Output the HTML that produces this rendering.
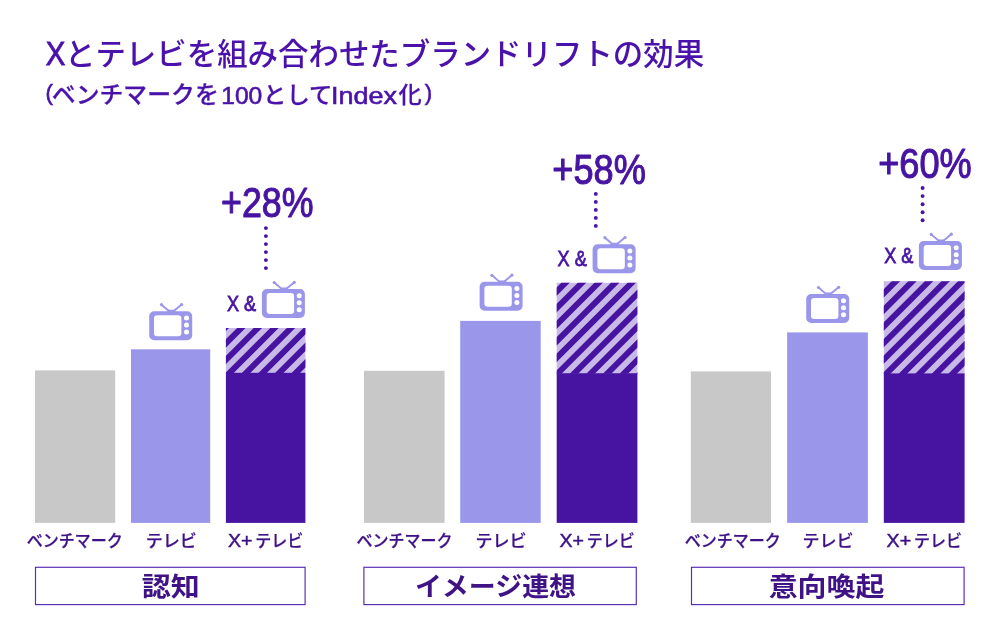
<!DOCTYPE html>
<html lang="ja"><head><meta charset="utf-8"><title>Xとテレビを組み合わせたブランドリフトの効果</title>
<style>
html,body{margin:0;padding:0;background:#fff}
body{width:1000px;height:640px;overflow:hidden}
svg{display:block}
text{font-family:"Liberation Sans","Noto Sans CJK JP",sans-serif;white-space:pre}
</style></head><body>
<svg width="1000" height="640" viewBox="0 0 1000 640">
<g id="shapes">
<rect x="35" y="370.4" width="80.20" height="152.50" fill="#c8c8c8"/>
<rect x="131" y="349.3" width="79.20" height="173.60" fill="#9a96ea"/>
<clipPath id="c0"><rect x="225.9" y="328.0" width="79.50" height="45.30"/></clipPath>
<rect x="225.9" y="328.0" width="79.50" height="45.30" fill="#c8b9e7"/>
<path clip-path="url(#c0)" fill="#4714a2" d="M205.94 326.00L214.34 326.00L165.54 374.80L157.14 374.80ZM222.52 326.00L230.92 326.00L182.12 374.80L173.72 374.80ZM239.10 326.00L247.50 326.00L198.70 374.80L190.30 374.80ZM255.68 326.00L264.08 326.00L215.28 374.80L206.88 374.80ZM272.26 326.00L280.66 326.00L231.86 374.80L223.46 374.80ZM288.84 326.00L297.24 326.00L248.44 374.80L240.04 374.80ZM305.42 326.00L313.82 326.00L265.02 374.80L256.62 374.80ZM322.00 326.00L330.40 326.00L281.60 374.80L273.20 374.80ZM338.58 326.00L346.98 326.00L298.18 374.80L289.78 374.80ZM355.16 326.00L363.56 326.00L314.76 374.80L306.36 374.80Z"/>
<rect x="225.9" y="372.8" width="79.50" height="150.10" fill="#4714a2"/>
<rect x="35.50" y="567.3" width="269.60" height="37.3" fill="#fff" stroke="#5c32b4" stroke-width="1.2"/>
<circle cx="265.9" cy="228.1" r="1.95" fill="#4714a2"/>
<circle cx="265.9" cy="236.1" r="1.95" fill="#4714a2"/>
<circle cx="265.9" cy="244.1" r="1.95" fill="#4714a2"/>
<circle cx="265.9" cy="252.1" r="1.95" fill="#4714a2"/>
<circle cx="265.9" cy="260.1" r="1.95" fill="#4714a2"/>
<circle cx="265.9" cy="268.1" r="1.95" fill="#4714a2"/>
<g transform="translate(149.20,311.20)">
<path fill="#9a96ea" fill-rule="evenodd" d="M5 0H38A5 5 0 0 1 43 5V24A5 5 0 0 1 38 29H5A5 5 0 0 1 0 24V5A5 5 0 0 1 5 0ZM8 4H29A3.2 3.2 0 0 1 32.2 7.2V21.8A3.2 3.2 0 0 1 29 25H8A3.2 3.2 0 0 1 4.8 21.8V7.2A3.2 3.2 0 0 1 8 4Z"/>
<circle cx="37.3" cy="6.8" r="2.5" fill="#fff"/><circle cx="37.3" cy="13.75" r="2.5" fill="#fff"/><circle cx="37.3" cy="20.7" r="2.5" fill="#fff"/>
<path d="M12.3 -6.5L20.6 0.6M32.4 -6.7L23.6 0.6" fill="none" stroke="#9a96ea" stroke-width="1.9" stroke-linecap="round"/>
<circle cx="12.3" cy="-6.5" r="1.6" fill="#9a96ea"/><circle cx="32.4" cy="-6.7" r="1.6" fill="#9a96ea"/>
<path d="M17.6 0.5L19.4 -1.4H24.8L26.6 0.5Z" fill="#9a96ea"/>
</g>
<g transform="translate(261.90,289.00)">
<path fill="#9a96ea" fill-rule="evenodd" d="M5 0H38A5 5 0 0 1 43 5V24A5 5 0 0 1 38 29H5A5 5 0 0 1 0 24V5A5 5 0 0 1 5 0ZM8 4H29A3.2 3.2 0 0 1 32.2 7.2V21.8A3.2 3.2 0 0 1 29 25H8A3.2 3.2 0 0 1 4.8 21.8V7.2A3.2 3.2 0 0 1 8 4Z"/>
<circle cx="37.3" cy="6.8" r="2.5" fill="#fff"/><circle cx="37.3" cy="13.75" r="2.5" fill="#fff"/><circle cx="37.3" cy="20.7" r="2.5" fill="#fff"/>
<path d="M12.3 -6.5L20.6 0.6M32.4 -6.7L23.6 0.6" fill="none" stroke="#9a96ea" stroke-width="1.9" stroke-linecap="round"/>
<circle cx="12.3" cy="-6.5" r="1.6" fill="#9a96ea"/><circle cx="32.4" cy="-6.7" r="1.6" fill="#9a96ea"/>
<path d="M17.6 0.5L19.4 -1.4H24.8L26.6 0.5Z" fill="#9a96ea"/>
</g>
<rect x="364" y="370.8" width="80.60" height="152.10" fill="#c8c8c8"/>
<rect x="460.2" y="320.9" width="80.50" height="202.00" fill="#9a96ea"/>
<clipPath id="c1"><rect x="556.7" y="282.8" width="80.70" height="90.90"/></clipPath>
<rect x="556.7" y="282.8" width="80.70" height="90.90" fill="#c8b9e7"/>
<path clip-path="url(#c1)" fill="#4714a2" d="M530.04 280.80L538.44 280.80L444.04 375.20L435.64 375.20ZM546.62 280.80L555.02 280.80L460.62 375.20L452.22 375.20ZM563.20 280.80L571.60 280.80L477.20 375.20L468.80 375.20ZM579.78 280.80L588.18 280.80L493.78 375.20L485.38 375.20ZM596.36 280.80L604.76 280.80L510.36 375.20L501.96 375.20ZM612.94 280.80L621.34 280.80L526.94 375.20L518.54 375.20ZM629.52 280.80L637.92 280.80L543.52 375.20L535.12 375.20ZM646.10 280.80L654.50 280.80L560.10 375.20L551.70 375.20ZM662.68 280.80L671.08 280.80L576.68 375.20L568.28 375.20ZM679.26 280.80L687.66 280.80L593.26 375.20L584.86 375.20ZM695.84 280.80L704.24 280.80L609.84 375.20L601.44 375.20ZM712.42 280.80L720.82 280.80L626.42 375.20L618.02 375.20ZM729.00 280.80L737.40 280.80L643.00 375.20L634.60 375.20ZM745.58 280.80L753.98 280.80L659.58 375.20L651.18 375.20Z"/>
<rect x="556.7" y="373.2" width="80.70" height="149.70" fill="#4714a2"/>
<rect x="363.90" y="567.3" width="272.40" height="37.3" fill="#fff" stroke="#5c32b4" stroke-width="1.2"/>
<circle cx="595.8" cy="193.9" r="1.95" fill="#4714a2"/>
<circle cx="595.8" cy="201.9" r="1.95" fill="#4714a2"/>
<circle cx="595.8" cy="209.9" r="1.95" fill="#4714a2"/>
<circle cx="595.8" cy="217.9" r="1.95" fill="#4714a2"/>
<circle cx="595.8" cy="225.9" r="1.95" fill="#4714a2"/>
<g transform="translate(479.60,281.80)">
<path fill="#9a96ea" fill-rule="evenodd" d="M5 0H38A5 5 0 0 1 43 5V24A5 5 0 0 1 38 29H5A5 5 0 0 1 0 24V5A5 5 0 0 1 5 0ZM8 4H29A3.2 3.2 0 0 1 32.2 7.2V21.8A3.2 3.2 0 0 1 29 25H8A3.2 3.2 0 0 1 4.8 21.8V7.2A3.2 3.2 0 0 1 8 4Z"/>
<circle cx="37.3" cy="6.8" r="2.5" fill="#fff"/><circle cx="37.3" cy="13.75" r="2.5" fill="#fff"/><circle cx="37.3" cy="20.7" r="2.5" fill="#fff"/>
<path d="M12.3 -6.5L20.6 0.6M32.4 -6.7L23.6 0.6" fill="none" stroke="#9a96ea" stroke-width="1.9" stroke-linecap="round"/>
<circle cx="12.3" cy="-6.5" r="1.6" fill="#9a96ea"/><circle cx="32.4" cy="-6.7" r="1.6" fill="#9a96ea"/>
<path d="M17.6 0.5L19.4 -1.4H24.8L26.6 0.5Z" fill="#9a96ea"/>
</g>
<g transform="translate(592.60,244.20)">
<path fill="#9a96ea" fill-rule="evenodd" d="M5 0H38A5 5 0 0 1 43 5V24A5 5 0 0 1 38 29H5A5 5 0 0 1 0 24V5A5 5 0 0 1 5 0ZM8 4H29A3.2 3.2 0 0 1 32.2 7.2V21.8A3.2 3.2 0 0 1 29 25H8A3.2 3.2 0 0 1 4.8 21.8V7.2A3.2 3.2 0 0 1 8 4Z"/>
<circle cx="37.3" cy="6.8" r="2.5" fill="#fff"/><circle cx="37.3" cy="13.75" r="2.5" fill="#fff"/><circle cx="37.3" cy="20.7" r="2.5" fill="#fff"/>
<path d="M12.3 -6.5L20.6 0.6M32.4 -6.7L23.6 0.6" fill="none" stroke="#9a96ea" stroke-width="1.9" stroke-linecap="round"/>
<circle cx="12.3" cy="-6.5" r="1.6" fill="#9a96ea"/><circle cx="32.4" cy="-6.7" r="1.6" fill="#9a96ea"/>
<path d="M17.6 0.5L19.4 -1.4H24.8L26.6 0.5Z" fill="#9a96ea"/>
</g>
<rect x="690.8" y="371.4" width="80.20" height="151.50" fill="#c8c8c8"/>
<rect x="787.1" y="332.4" width="80.80" height="190.50" fill="#9a96ea"/>
<clipPath id="c2"><rect x="883.8" y="281.2" width="80.80" height="92.70"/></clipPath>
<rect x="883.8" y="281.2" width="80.80" height="92.70" fill="#c8b9e7"/>
<path clip-path="url(#c2)" fill="#4714a2" d="M860.54 279.20L868.94 279.20L772.74 375.40L764.34 375.40ZM877.12 279.20L885.52 279.20L789.32 375.40L780.92 375.40ZM893.70 279.20L902.10 279.20L805.90 375.40L797.50 375.40ZM910.28 279.20L918.68 279.20L822.48 375.40L814.08 375.40ZM926.86 279.20L935.26 279.20L839.06 375.40L830.66 375.40ZM943.44 279.20L951.84 279.20L855.64 375.40L847.24 375.40ZM960.02 279.20L968.42 279.20L872.22 375.40L863.82 375.40ZM976.60 279.20L985.00 279.20L888.80 375.40L880.40 375.40ZM993.18 279.20L1001.58 279.20L905.38 375.40L896.98 375.40ZM1009.76 279.20L1018.16 279.20L921.96 375.40L913.56 375.40ZM1026.34 279.20L1034.74 279.20L938.54 375.40L930.14 375.40ZM1042.92 279.20L1051.32 279.20L955.12 375.40L946.72 375.40ZM1059.50 279.20L1067.90 279.20L971.70 375.40L963.30 375.40Z"/>
<rect x="883.8" y="373.4" width="80.80" height="149.50" fill="#4714a2"/>
<rect x="691.50" y="567.3" width="272.60" height="37.3" fill="#fff" stroke="#5c32b4" stroke-width="1.2"/>
<circle cx="922.6" cy="188.0" r="1.95" fill="#4714a2"/>
<circle cx="922.6" cy="196.1" r="1.95" fill="#4714a2"/>
<circle cx="922.6" cy="204.2" r="1.95" fill="#4714a2"/>
<circle cx="922.6" cy="212.3" r="1.95" fill="#4714a2"/>
<circle cx="922.6" cy="220.3" r="1.95" fill="#4714a2"/>
<g transform="translate(806.20,294.00)">
<path fill="#9a96ea" fill-rule="evenodd" d="M5 0H38A5 5 0 0 1 43 5V24A5 5 0 0 1 38 29H5A5 5 0 0 1 0 24V5A5 5 0 0 1 5 0ZM8 4H29A3.2 3.2 0 0 1 32.2 7.2V21.8A3.2 3.2 0 0 1 29 25H8A3.2 3.2 0 0 1 4.8 21.8V7.2A3.2 3.2 0 0 1 8 4Z"/>
<circle cx="37.3" cy="6.8" r="2.5" fill="#fff"/><circle cx="37.3" cy="13.75" r="2.5" fill="#fff"/><circle cx="37.3" cy="20.7" r="2.5" fill="#fff"/>
<path d="M12.3 -6.5L20.6 0.6M32.4 -6.7L23.6 0.6" fill="none" stroke="#9a96ea" stroke-width="1.9" stroke-linecap="round"/>
<circle cx="12.3" cy="-6.5" r="1.6" fill="#9a96ea"/><circle cx="32.4" cy="-6.7" r="1.6" fill="#9a96ea"/>
<path d="M17.6 0.5L19.4 -1.4H24.8L26.6 0.5Z" fill="#9a96ea"/>
</g>
<g transform="translate(918.90,240.90)">
<path fill="#9a96ea" fill-rule="evenodd" d="M5 0H38A5 5 0 0 1 43 5V24A5 5 0 0 1 38 29H5A5 5 0 0 1 0 24V5A5 5 0 0 1 5 0ZM8 4H29A3.2 3.2 0 0 1 32.2 7.2V21.8A3.2 3.2 0 0 1 29 25H8A3.2 3.2 0 0 1 4.8 21.8V7.2A3.2 3.2 0 0 1 8 4Z"/>
<circle cx="37.3" cy="6.8" r="2.5" fill="#fff"/><circle cx="37.3" cy="13.75" r="2.5" fill="#fff"/><circle cx="37.3" cy="20.7" r="2.5" fill="#fff"/>
<path d="M12.3 -6.5L20.6 0.6M32.4 -6.7L23.6 0.6" fill="none" stroke="#9a96ea" stroke-width="1.9" stroke-linecap="round"/>
<circle cx="12.3" cy="-6.5" r="1.6" fill="#9a96ea"/><circle cx="32.4" cy="-6.7" r="1.6" fill="#9a96ea"/>
<path d="M17.6 0.5L19.4 -1.4H24.8L26.6 0.5Z" fill="#9a96ea"/>
</g>
</g>
<g id="labels">
<text x="26.70" y="547.20" font-size="17" font-weight="500" fill="#3f1386" textLength="96.00" lengthAdjust="spacingAndGlyphs" stroke="#3f1386" stroke-width="0.25">ベンチマーク</text>
<text x="145.70" y="547.20" font-size="17" font-weight="500" fill="#3f1386" textLength="51.00" lengthAdjust="spacingAndGlyphs" stroke="#3f1386" stroke-width="0.25">テレビ</text>
<text><tspan x="228.05" y="546.60" font-size="17.6" font-weight="400" fill="#3f1386" textLength="24.50" lengthAdjust="spacingAndGlyphs" stroke="#3f1386" stroke-width="0.45">X+</tspan><tspan x="255.35" y="547.20" font-size="17" font-weight="500" fill="#3f1386" textLength="48.00" lengthAdjust="spacingAndGlyphs" stroke="#3f1386" stroke-width="0.25">テレビ</tspan></text>
<text x="141.65" y="595.90" font-size="26.4" font-weight="700" fill="#3f1386" textLength="58.00" lengthAdjust="spacingAndGlyphs">認知</text>
<text x="221.00" y="217.10" font-size="42.0" font-weight="400" fill="#4714a2" textLength="92.50" lengthAdjust="spacingAndGlyphs" stroke="#4714a2" stroke-width="1.1" stroke-linejoin="round">+28%</text>
<text x="227.00" y="311.20" font-size="21.3" font-weight="400" fill="#4714a2" textLength="29.20" lengthAdjust="spacingAndGlyphs" stroke="#4714a2" stroke-width="0.8">X &amp;</text>
<text x="356.60" y="547.20" font-size="17" font-weight="500" fill="#3f1386" textLength="96.00" lengthAdjust="spacingAndGlyphs" stroke="#3f1386" stroke-width="0.25">ベンチマーク</text>
<text x="475.55" y="547.20" font-size="17" font-weight="500" fill="#3f1386" textLength="51.00" lengthAdjust="spacingAndGlyphs" stroke="#3f1386" stroke-width="0.25">テレビ</text>
<text><tspan x="559.45" y="546.60" font-size="17.6" font-weight="400" fill="#3f1386" textLength="24.50" lengthAdjust="spacingAndGlyphs" stroke="#3f1386" stroke-width="0.45">X+</tspan><tspan x="586.75" y="547.20" font-size="17" font-weight="500" fill="#3f1386" textLength="48.00" lengthAdjust="spacingAndGlyphs" stroke="#3f1386" stroke-width="0.25">テレビ</tspan></text>
<text x="414.90" y="595.90" font-size="26.4" font-weight="700" fill="#3f1386" textLength="161.20" lengthAdjust="spacingAndGlyphs">イメージ連想</text>
<text x="552.30" y="183.60" font-size="42.0" font-weight="400" fill="#4714a2" textLength="93.50" lengthAdjust="spacingAndGlyphs" stroke="#4714a2" stroke-width="1.1" stroke-linejoin="round">+58%</text>
<text x="557.60" y="266.20" font-size="21.3" font-weight="400" fill="#4714a2" textLength="29.20" lengthAdjust="spacingAndGlyphs" stroke="#4714a2" stroke-width="0.8">X &amp;</text>
<text x="684.80" y="547.20" font-size="17" font-weight="500" fill="#3f1386" textLength="96.00" lengthAdjust="spacingAndGlyphs" stroke="#3f1386" stroke-width="0.25">ベンチマーク</text>
<text x="802.60" y="547.20" font-size="17" font-weight="500" fill="#3f1386" textLength="51.00" lengthAdjust="spacingAndGlyphs" stroke="#3f1386" stroke-width="0.25">テレビ</text>
<text><tspan x="886.60" y="546.60" font-size="17.6" font-weight="400" fill="#3f1386" textLength="24.50" lengthAdjust="spacingAndGlyphs" stroke="#3f1386" stroke-width="0.45">X+</tspan><tspan x="913.90" y="547.20" font-size="17" font-weight="500" fill="#3f1386" textLength="48.00" lengthAdjust="spacingAndGlyphs" stroke="#3f1386" stroke-width="0.25">テレビ</tspan></text>
<text x="768.70" y="595.90" font-size="26.4" font-weight="700" fill="#3f1386" textLength="115.60" lengthAdjust="spacingAndGlyphs">意向喚起</text>
<text x="878.20" y="177.50" font-size="42.0" font-weight="400" fill="#4714a2" textLength="93.50" lengthAdjust="spacingAndGlyphs" stroke="#4714a2" stroke-width="1.1" stroke-linejoin="round">+60%</text>
<text x="884.20" y="263.30" font-size="21.3" font-weight="400" fill="#4714a2" textLength="29.20" lengthAdjust="spacingAndGlyphs" stroke="#4714a2" stroke-width="0.8">X &amp;</text>
<text><tspan x="45.80" y="65.00" font-size="33" font-weight="400" fill="#4a12ab" textLength="19.60" lengthAdjust="spacingAndGlyphs" stroke="#4a12ab" stroke-width="0.9">X</tspan><tspan x="65.00" y="64.90" font-size="30.45" font-weight="500" fill="#4a12ab">とテレビを組み合わせたブランドリフトの効果</tspan></text>
<text><tspan x="45.40" y="100.30" font-size="22.3" font-weight="400" fill="#4a12ab" stroke="#4a12ab" stroke-width="0.6">(</tspan><tspan x="51.80" y="103.45" font-size="23.6" font-weight="500" fill="#4a12ab" textLength="167.00" lengthAdjust="spacingAndGlyphs" stroke="#4a12ab" stroke-width="0.25">ベンチマークを</tspan><tspan x="221.20" y="103.75" font-size="23.6" font-weight="400" fill="#4a12ab" textLength="41.10" lengthAdjust="spacingAndGlyphs" stroke="#4a12ab" stroke-width="0.6">100</tspan><tspan x="263.00" y="103.45" font-size="23" font-weight="500" fill="#4a12ab" textLength="69.50" lengthAdjust="spacingAndGlyphs" stroke="#4a12ab" stroke-width="0.25">として</tspan><tspan x="331.00" y="103.75" font-size="23.6" font-weight="400" fill="#4a12ab" textLength="66.00" lengthAdjust="spacingAndGlyphs" stroke="#4a12ab" stroke-width="0.6">Index</tspan><tspan x="398.60" y="103.45" font-size="23.2" font-weight="500" fill="#4a12ab" stroke="#4a12ab" stroke-width="0.25">化</tspan><tspan x="424.80" y="100.30" font-size="22.3" font-weight="400" fill="#4a12ab" stroke="#4a12ab" stroke-width="0.6">)</tspan></text>
</g>
</svg>
</body></html>
